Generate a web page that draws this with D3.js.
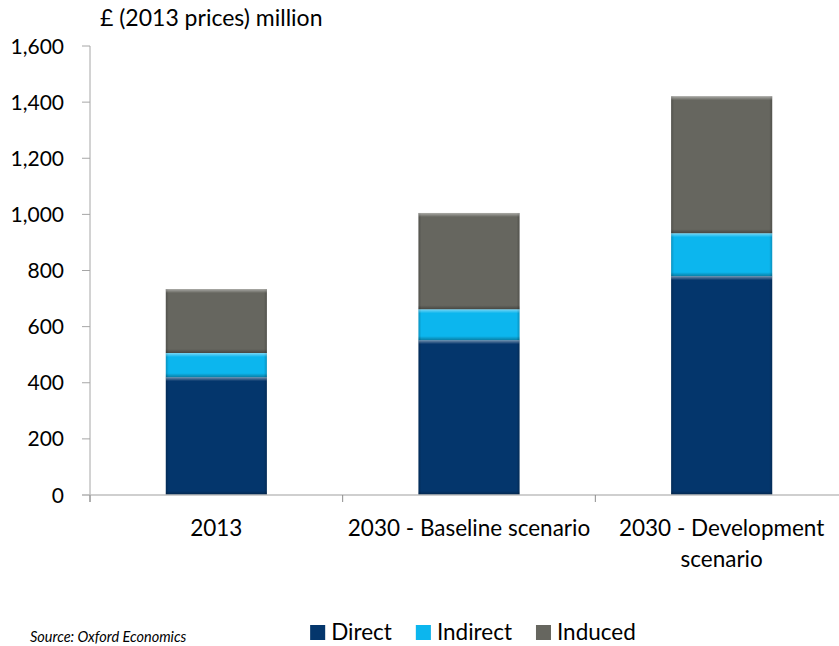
<!DOCTYPE html>
<html>
<head>
<meta charset="utf-8">
<script src="https://cdn.jsdelivr.net/npm/d3@7"></script>
<style>
  body { margin: 0; background: #fff; }
  svg { display: block; font-family: Lato, "Open Sans", sans-serif; }
</style>
</head>
<body>
<svg id="chart" width="839" height="646"></svg>
<script>
// Chart data
const categories = ["2013", "2030 - Baseline scenario", "2030 - Development scenario"];
const direct = [420, 552, 780];
const indirect = [86, 110, 153];
const induced = [228, 343, 488];
const yTicks = [0, 200, 400, 600, 800, 1000, 1200, 1400, 1600];

const seriesNames = ["Direct", "Indirect", "Induced"];
const seriesValues = [direct, indirect, induced];
const colors = ["#04366c", "#0cb6ee", "#66665f"];

const svg = d3.select("#chart");
const plotLeft = 90, plotRight = 848, plotTop = 46, plotBottom = 495;
const labelSize = 22.5;

const x = d3.scaleBand().domain(categories).range([plotLeft, plotRight])
  .paddingInner(0.6).paddingOuter(0.3);
const y = d3.scaleLinear().domain([0, 1600]).range([plotBottom, plotTop]);
const step = x.step();

// stack the series
let rows = categories.map((c, i) => {
  let r = { cat: c };
  seriesNames.forEach((s, j) => (r[s] = seriesValues[j][i]));
  return r;
});
let stacked = d3.stack().keys(seriesNames)(rows);

// y axis
svg.append("line")
  .attr("x1", plotLeft).attr("x2", plotLeft)
  .attr("y1", plotTop).attr("y2", plotBottom + 7)
  .attr("stroke", "#a6a6a6");

svg.selectAll(".ytick").data(yTicks).enter()
  .append("line")
  .attr("x1", plotLeft - 8).attr("x2", plotLeft)
  .attr("y1", (d) => y(d)).attr("y2", (d) => y(d))
  .attr("stroke", "#a6a6a6");

svg.selectAll(".ylabel").data(yTicks).enter()
  .append("text")
  .attr("x", 64)
  .attr("y", (d) => y(d))
  .attr("dy", "0.36em")
  .attr("text-anchor", "end")
  .attr("font-size", 21)
  .attr("fill", "#000")
  .text((d) => d3.format(",")(d));

svg.append("text")
  .attr("x", 100).attr("y", 26)
  .attr("font-size", 23)
  .text("£ (2013 prices) million");

// bars
const defs = svg.append("defs");
let topGrad = defs.append("linearGradient").attr("id", "topHi")
  .attr("x1", 0).attr("y1", 0).attr("x2", 0).attr("y2", 1);
topGrad.append("stop").attr("offset", "0%").attr("stop-color", "#fff").attr("stop-opacity", 0.45);
topGrad.append("stop").attr("offset", "100%").attr("stop-color", "#fff").attr("stop-opacity", 0);
let botGrad = defs.append("linearGradient").attr("id", "botSh")
  .attr("x1", 0).attr("y1", 0).attr("x2", 0).attr("y2", 1);
botGrad.append("stop").attr("offset", "0%").attr("stop-color", "#000").attr("stop-opacity", 0);
botGrad.append("stop").attr("offset", "100%").attr("stop-color", "#000").attr("stop-opacity", 0.3);
let sideGrad = defs.append("linearGradient").attr("id", "sideSh")
  .attr("x1", 0).attr("y1", 0).attr("x2", 1).attr("y2", 0);
sideGrad.append("stop").attr("offset", "0%").attr("stop-color", "#000").attr("stop-opacity", 0.2);
sideGrad.append("stop").attr("offset", "3%").attr("stop-color", "#000").attr("stop-opacity", 0);
sideGrad.append("stop").attr("offset", "97%").attr("stop-color", "#000").attr("stop-opacity", 0);
sideGrad.append("stop").attr("offset", "100%").attr("stop-color", "#000").attr("stop-opacity", 0.2);

stacked.forEach((layer, j) => {
  let g = svg.append("g");
  layer.forEach((d) => {
    let bx = x(d.data.cat), bw = x.bandwidth();
    let y0 = y(d[1]), h = y(d[0]) - y(d[1]);
    g.append("rect").attr("x", bx).attr("y", y0).attr("width", bw).attr("height", h)
      .attr("fill", colors[j]);
    g.append("rect").attr("x", bx).attr("y", y0).attr("width", bw).attr("height", h)
      .attr("fill", "url(#sideSh)");
    g.append("rect").attr("x", bx).attr("y", y0).attr("width", bw).attr("height", 4)
      .attr("fill", "url(#topHi)");
    g.append("rect").attr("x", bx).attr("y", y0 + h - 4).attr("width", bw).attr("height", 4)
      .attr("fill", "url(#botSh)");
  });
});

// x axis
svg.append("line")
  .attr("x1", plotLeft - 8).attr("x2", plotRight)
  .attr("y1", plotBottom).attr("y2", plotBottom)
  .attr("stroke", "#bfbfbf").attr("stroke-width", 1.5);

svg.selectAll(".xtick").data(d3.range(categories.length + 1)).enter()
  .append("line")
  .attr("x1", (i) => plotLeft + i * step).attr("x2", (i) => plotLeft + i * step)
  .attr("y1", plotBottom).attr("y2", plotBottom + 7)
  .attr("stroke", "#8c8c8c");

function wrap(text, width) {
  text.each(function () {
    let t = d3.select(this);
    let words = t.text().split(" ");
    let cx = t.attr("x");
    t.text(null);
    let line = [];
    let tspan = t.append("tspan").attr("x", cx).attr("dy", 0);
    words.forEach((w) => {
      line.push(w);
      tspan.text(line.join(" "));
      if (tspan.node().getComputedTextLength() > width && line.length > 1) {
        line.pop();
        tspan.text(line.join(" "));
        line = [w];
        tspan = t.append("tspan").attr("x", cx).attr("dy", 31).text(w);
      }
    });
  });
}

svg.selectAll(".xlabel").data(categories).enter()
  .append("text")
  .attr("x", (d) => x(d) + x.bandwidth() / 2)
  .attr("y", 536)
  .attr("text-anchor", "middle")
  .attr("font-size", labelSize)
  .text((d) => d)
  .call(wrap, step - 8);

// legend, centred under the plot
let legend = svg.append("g");
let lx = 0;
seriesNames.forEach((s, j) => {
  legend.append("rect").attr("x", lx).attr("y", 625).attr("width", 15).attr("height", 15)
    .attr("fill", colors[j]);
  legend.append("rect").attr("x", lx).attr("y", 625).attr("width", 15).attr("height", 15)
    .attr("fill", "url(#sideSh)");
  let t = legend.append("text").attr("x", lx + 21).attr("y", 640)
    .attr("font-size", labelSize).text(s);
  lx += 21 + t.node().getComputedTextLength();
  if (j < seriesNames.length - 1) lx += 24;
});
legend.attr("transform", "translate(" + (473 - lx / 2) + ",0)");

svg.append("text")
  .attr("x", 30).attr("y", 642)
  .attr("font-size", 14.5).attr("font-style", "italic")
  .text("Source: Oxford Economics");
</script>
</body>
</html>
